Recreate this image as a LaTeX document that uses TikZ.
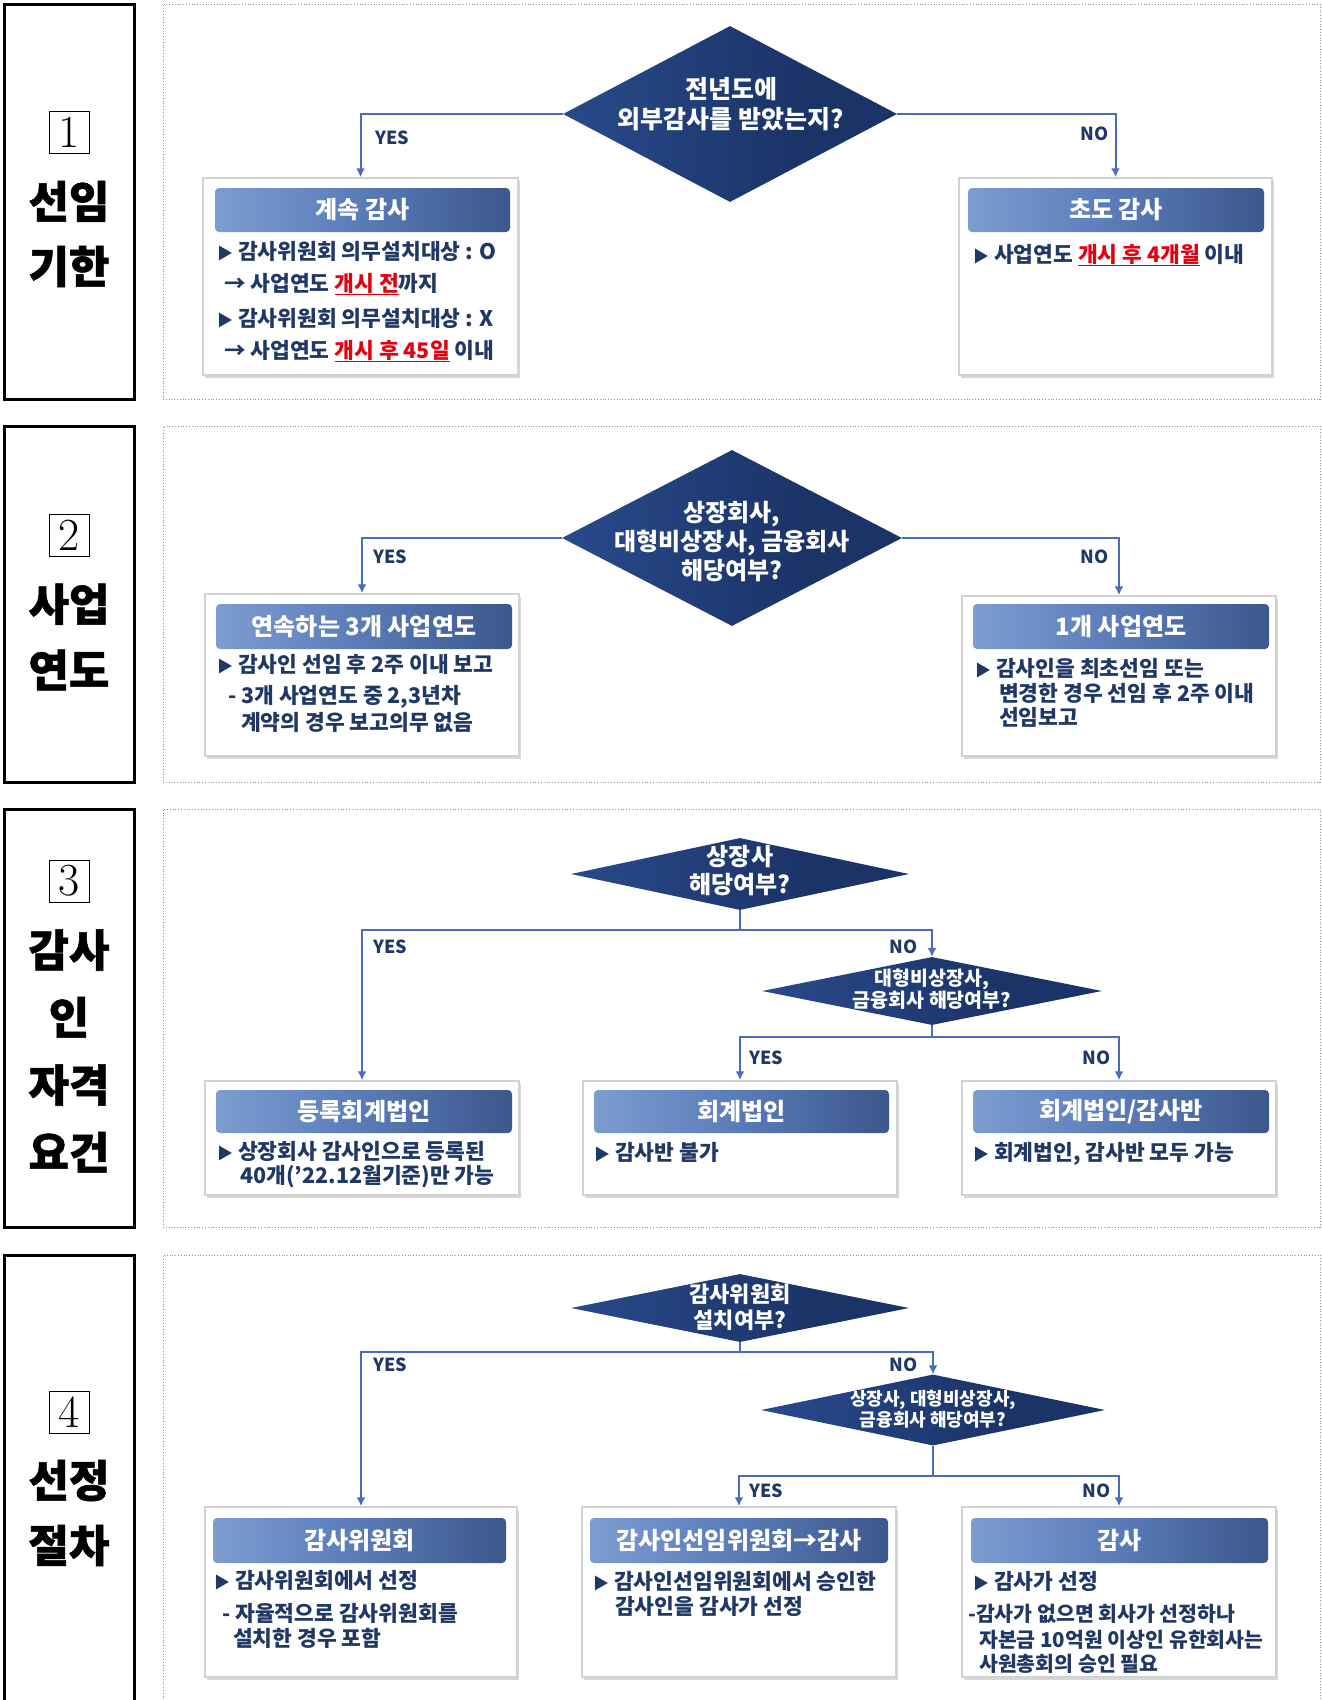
\documentclass[tikz,border=0pt]{standalone}
\usepackage{fontspec}
\usetikzlibrary{shapes.geometric,arrows.meta,shadows}
\newfontfamily\kr{Noto Sans CJK KR}
\newfontfamily\krh[FakeBold=1.2]{Noto Sans CJK KR}
\definecolor{navy}{HTML}{1F3864}
\definecolor{lnc}{HTML}{4A6BBF}
\definecolor{dl}{HTML}{8AA6D8}
\definecolor{dm}{HTML}{2A4C8E}
\definecolor{dd}{HTML}{1B3468}
\definecolor{hl}{HTML}{A3BEE6}
\definecolor{hm}{HTML}{5F82BE}
\definecolor{hd}{HTML}{1E3462}
\definecolor{redt}{HTML}{E3000F}
\pgfdeclarehorizontalshading{diamsh}{100bp}{color(0bp)=(dl); color(22bp)=(dm); color(60bp)=(dd); color(100bp)=(dd)}
\pgfdeclarehorizontalshading{hdrsh}{100bp}{color(0bp)=(hl); color(45bp)=(hm); color(100bp)=(hd)}
\newcommand\redul[1]{{\color{redt}\underline{#1}}}
\newcommand\tri{{\fontsize{16}{16}\selectfont ▶}}
\tikzset{
 secbox/.style={draw=black, line width=3pt, inner sep=0pt},
 panel/.style={draw=gray!85, dotted, line width=0.8pt, inner sep=0pt},
 dia/.style={diamond, shade, shading=diamsh, draw=none, inner sep=0pt},
 diat/.style={text=white, align=center, inner sep=0pt},
 outbox/.style={draw=gray!35, line width=1.5pt, fill=white, inner sep=0pt,
   drop shadow={shadow xshift=2pt, shadow yshift=-3pt, fill=black!30, opacity=0.5}},
 hdr/.style={rectangle, rounded corners=4pt, shade, shading=hdrsh, text=white, inner sep=0pt,
   font=\kr\bfseries\fontsize{24}{26}\selectfont},
 bt/.style={anchor=base west, inner sep=0pt, text=navy, font=\kr\bfseries\fontsize{21.5}{24}\selectfont},
 yn/.style={text=navy, font=\kr\bfseries\fontsize{18}{18}\selectfont, inner sep=0pt},
 lnk/.style={draw=lnc, line width=2pt},
 arr/.style={draw=lnc, line width=2pt, -{Latex[length=9pt,width=9pt]}},
 num/.style={draw, line width=0.7pt, inner sep=0pt, minimum width=40pt, minimum height=42pt,
   font=\fontsize{46}{46}\selectfont},
 sect/.style={align=center, text=black, inner sep=0pt}
}
\begin{document}
\begin{tikzpicture}[x=1pt,y=-1pt]
\useasboundingbox (0,0) rectangle (1322,1700);
\clip (0,0) rectangle (1322,1700);
\fill[white] (0,0) rectangle (1322,1700);

% ---------- section frames ----------
\node[secbox, minimum width=130pt, minimum height=395pt] (sb1) at (69,201.5) {};
\node[panel, minimum width=1157pt, minimum height=395pt] (p1) at (741.5,201.5) {};
\node[secbox, minimum width=130pt, minimum height=356pt] (sb2) at (69,604) {};
\node[panel, minimum width=1157pt, minimum height=356pt] (p2) at (741.5,604) {};
\node[secbox, minimum width=130pt, minimum height=418pt] (sb3) at (69,1018) {};
\node[panel, minimum width=1157pt, minimum height=418pt] (p3) at (741.5,1018) {};
\node[secbox, minimum width=130pt, minimum height=485pt] (sb4) at (69,1497.5) {};
\node[panel, minimum width=1157pt, minimum height=485pt] (p4) at (741.5,1497.5) {};

\node[num] (n1) at (69,132) {1};
\node[sect, font=\krh\bfseries\fontsize{44}{65}\selectfont] (l1) at (69,234) {선임\\기한};
\node[num] (n2) at (69,535) {2};
\node[sect, font=\krh\bfseries\fontsize{44}{66}\selectfont] (l2) at (69,637) {사업\\연도};
\node[num] (n3) at (69,881) {3};
\node[sect, font=\krh\bfseries\fontsize{44}{67.5}\selectfont] (l3) at (69,1051) {감사\\인\\자격\\요건};
\node[num] (n4) at (69,1412) {4};
\node[sect, font=\krh\bfseries\fontsize{44}{65}\selectfont] (l4) at (69,1513) {선정\\절차};

% ---------- section 1 ----------
\node[dia, minimum width=334pt, minimum height=176pt] (d1) at (730,114) {};
\node[diat, font=\kr\bfseries\fontsize{25}{30}\selectfont] (d1t) at (731,104) {전년도에\\외부감사를 받았는지?};

\node[outbox, minimum width=315pt, minimum height=197pt] (b1) at (360.5,276.5) {};
\node[hdr, minimum width=295pt, minimum height=44pt] (h1) at (362.5,210) {계속 감사};
\node[bt] (b1a) at (217,259) {\tri\ 감사위원회 의무설치대상 : O};
\node[bt] (b1b) at (224,291) {→ 사업연도 \redul{개시 전}까지};
\node[bt] (b1c) at (217,326) {\tri\ 감사위원회 의무설치대상 : X};
\node[bt] (b1d) at (224,358) {→ 사업연도 \redul{개시 후 45일} 이내};

\node[outbox, minimum width=313pt, minimum height=197pt] (b2) at (1115.5,276.5) {};
\node[hdr, minimum width=296pt, minimum height=44pt] (h2) at (1116,210) {초도 감사};
\node[bt] (b2a) at (973,262) {\tri\ 사업연도 \redul{개시 후 4개월} 이내};

\draw[arr] (d1.west) -| (b1.north);
\draw[arr] (d1.east) -| (b2.north);
\node[yn, anchor=west] (y1) at (375,138) {YES};
\node[yn, anchor=east] (o1) at (1109,134) {NO};

% ---------- section 2 ----------
\node[dia, minimum width=340pt, minimum height=176pt] (d2) at (732,538) {};
\node[diat, font=\kr\bfseries\fontsize{24}{29}\selectfont] (d2t) at (732,542) {상장회사,\\대형비상장사, 금융회사\\해당여부?};

\node[outbox, minimum width=314pt, minimum height=162pt] (b3) at (362,675) {};
\node[hdr, minimum width=296pt, minimum height=45pt] (h3) at (364,626.5) {연속하는 3개 사업연도};
\node[bt] (b3a) at (217,672) {\tri\ 감사인 선임 후 2주 이내 보고};
\node[bt] (b3b) at (228,703) {- 3개 사업연도 중 2,3년차};
\node[bt] (b3c) at (241,730) {계약의 경우 보고의무 없음};

\node[outbox, minimum width=314pt, minimum height=160pt] (b4) at (1119,676) {};
\node[hdr, minimum width=296pt, minimum height=45pt] (h4) at (1121,626.5) {1개 사업연도};
\node[bt] (b4a) at (975,676) {\tri\ 감사인을 최초선임 또는};
\node[bt] (b4b) at (999,701) {변경한 경우 선임 후 2주 이내};
\node[bt] (b4c) at (999,725) {선임보고};

\draw[arr] (d2.west) -| (b3.north);
\draw[arr] (d2.east) -| (b4.north);
\node[yn, anchor=west] (y2) at (373,557) {YES};
\node[yn, anchor=east] (o2) at (1109,557) {NO};

% ---------- section 3 ----------
\node[dia, minimum width=338pt, minimum height=72pt] (d3a) at (740,874) {};
\node[diat, font=\kr\bfseries\fontsize{24}{28}\selectfont] (d3at) at (740,871) {상장사\\해당여부?};
\node[dia, minimum width=340pt, minimum height=68pt] (d3b) at (932,991) {};
\node[diat, font=\kr\bfseries\fontsize{19.5}{22}\selectfont] (d3bt) at (932,989) {대형비상장사,\\금융회사 해당여부?};

\node[outbox, minimum width=314pt, minimum height=114pt] (b5) at (362,1138) {};
\node[hdr, minimum width=296pt, minimum height=43pt] (h5) at (364,1111.5) {등록회계법인};
\node[bt] (b5a) at (217,1159) {\tri\ 상장회사 감사인으로 등록된};
\node[bt] (b5b) at (240,1183) {40개(’22.12월기준)만 가능};

\node[outbox, minimum width=314pt, minimum height=114pt] (b6) at (740,1138) {};
\node[hdr, minimum width=295pt, minimum height=43pt] (h6) at (741.5,1111.5) {회계법인};
\node[bt] (b6a) at (594,1160) {\tri\ 감사반 불가};

\node[outbox, minimum width=314pt, minimum height=114pt] (b7) at (1119,1138) {};
\node[hdr, minimum width=296pt, minimum height=43pt] (h7) at (1121,1111.5) {회계법인/감사반};
\node[bt] (b7a) at (973,1160) {\tri\ 회계법인, 감사반 모두 가능};

\coordinate (s3) at (740,930);
\coordinate (t3) at (932,1037);
\draw[lnk] (d3a.south) -- (s3);
\draw[arr] (s3) -| (b5.north);
\draw[arr] (s3) -| (d3b.north);
\draw[lnk] (d3b.south) -- (t3);
\draw[arr] (t3) -| (b6.north);
\draw[arr] (t3) -| (b7.north);
\node[yn, anchor=west] (y3) at (373,947) {YES};
\node[yn, anchor=east] (o3) at (918,947) {NO};
\node[yn, anchor=west] (y4) at (749,1058) {YES};
\node[yn, anchor=east] (o4) at (1111,1058) {NO};

% ---------- section 4 ----------
\node[dia, minimum width=338pt, minimum height=68pt] (d4a) at (740,1308) {};
\node[diat, font=\kr\bfseries\fontsize{22}{26}\selectfont] (d4at) at (740,1307) {감사위원회\\설치여부?};
\node[dia, minimum width=344pt, minimum height=71pt] (d4b) at (933,1410) {};
\node[diat, font=\kr\bfseries\fontsize{18}{21}\selectfont] (d4bt) at (933,1409) {상장사, 대형비상장사,\\금융회사 해당여부?};

\node[outbox, minimum width=312pt, minimum height=170pt] (b8) at (361,1592) {};
\node[hdr, minimum width=293pt, minimum height=45pt] (h8) at (359.5,1540.5) {감사위원회};
\node[bt] (b8a) at (214,1588) {\tri\ 감사위원회에서 선정};
\node[bt] (b8b) at (222,1621) {- 자율적으로 감사위원회를};
\node[bt] (b8c) at (233,1646) {설치한 경우 포함};

\node[outbox, minimum width=314pt, minimum height=170pt] (b9) at (739,1592) {};
\node[hdr, minimum width=298pt, minimum height=45pt] (h9) at (739,1540.5) {감사인선임위원회→감사};
\node[bt] (b9a) at (593,1589) {\tri\ 감사인선임위원회에서 승인한};
\node[bt] (b9b) at (615,1614) {감사인을 감사가 선정};

\node[outbox, minimum width=314pt, minimum height=170pt] (b10) at (1119,1592) {};
\node[hdr, minimum width=297pt, minimum height=45pt] (h10) at (1119.5,1540.5) {감사};
\node[bt] (b10a) at (973,1589) {\tri\ 감사가 선정};
\node[bt, font=\kr\bfseries\fontsize{20.5}{24}\selectfont] (b10b) at (968,1621) {-감사가 없으면 회사가 선정하나};
\node[bt, font=\kr\bfseries\fontsize{20.5}{24}\selectfont] (b10c) at (979,1647) {자본금 10억원 이상인 유한회사는};
\node[bt, font=\kr\bfseries\fontsize{20.5}{24}\selectfont] (b10d) at (979,1671) {사원총회의 승인 필요};

\coordinate (s4) at (740,1352);
\coordinate (t4) at (933,1476);
\draw[lnk] (d4a.south) -- (s4);
\draw[arr] (s4) -| (b8.north);
\draw[arr] (s4) -| (d4b.north);
\draw[lnk] (d4b.south) -- (t4);
\draw[arr] (t4) -| (b9.north);
\draw[arr] (t4) -| (b10.north);
\node[yn, anchor=west] (y5) at (373,1365) {YES};
\node[yn, anchor=east] (o5) at (918,1365) {NO};
\node[yn, anchor=west] (y6) at (749,1491) {YES};
\node[yn, anchor=east] (o6) at (1111,1491) {NO};
\end{tikzpicture}
\end{document}
